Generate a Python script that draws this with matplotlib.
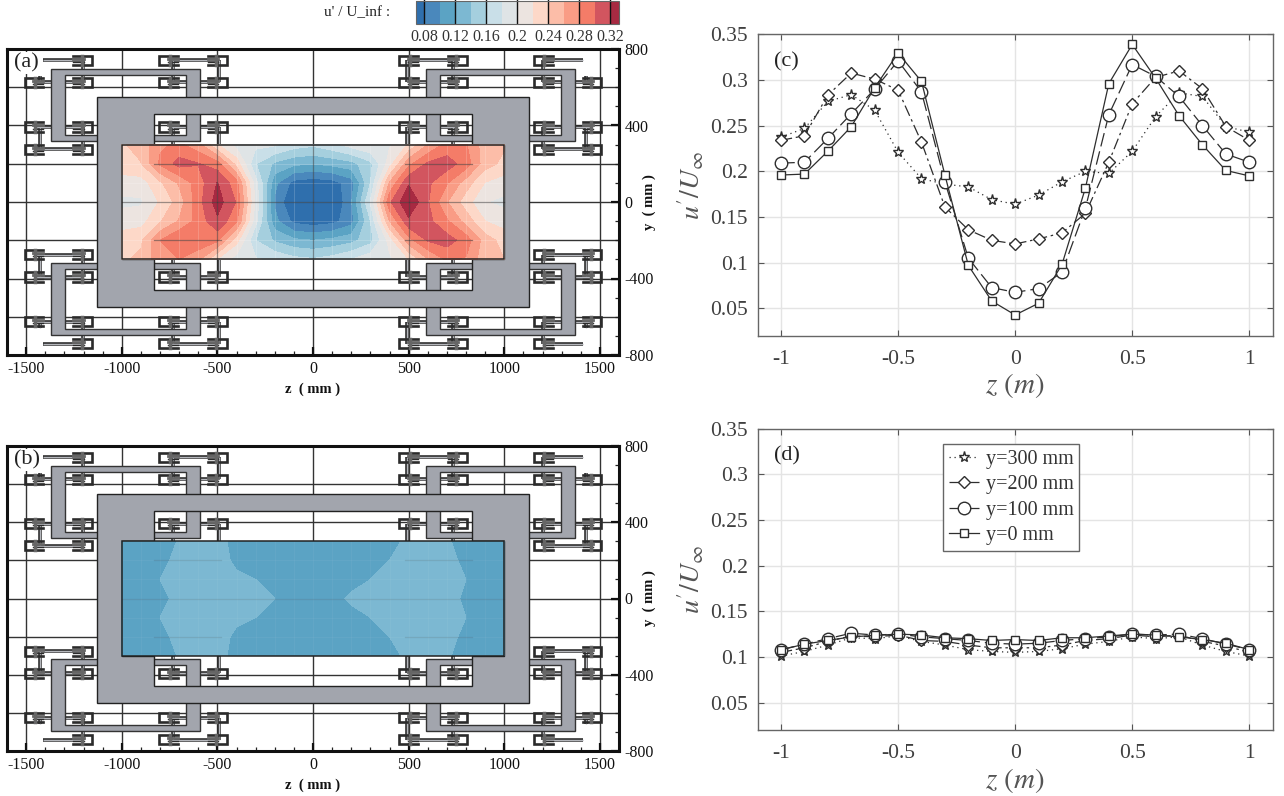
import numpy as np
import matplotlib
matplotlib.use("Agg")
import matplotlib.pyplot as plt
from matplotlib.colors import ListedColormap, BoundaryNorm
from matplotlib.patches import Rectangle, PathPatch
from matplotlib.path import Path

plt.rcParams['font.family'] = ['Liberation Serif', 'DejaVu Serif']
plt.rcParams['mathtext.fontset'] = 'stix'

W, H = 1284, 796

z_m = [-1, -.9, -.8, -.7, -.6, -.5, -.4, -.3, -.2, -.1, 0, .1, .2, .3, .4, .5, .6, .7, .8, .9, 1]
z_mm = [-1000, -900, -800, -700, -600, -500, -400, -300, -200, -100, 0, 100, 200, 300, 400, 500, 600, 700, 800, 900, 1000]
y_mm = [300, 200, 100, 0, -100, -200, -300]

# Panel (c): high-fluctuation case
c_y300 = [.2375, .247, .2766, .284, .267, .221, .192, .186, .183, .169, .164, .174, .1885, .200, .1977, .222, .260, .286, .282, .249, .243]
c_y200 = [.234, .239, .2835, .3077, .301, .289, .232, .161, .136, .1245, .1205, .126, .1326, .154, .210, .274, .303, .310, .2905, .249, .234]
c_y100 = [.209, .210, .236, .263, .290, .321, .287, .1885, .105, .0727, .0675, .0716, .0895, .1596, .262, .317, .304, .282, .250, .219, .210]
c_y0 = [.196, .197, .222, .249, .2916, .3296, .2985, .196, .097, .058, .0427, .0555, .098, .1816, .296, .339, .302, .261, .229, .201, .195]

# Panel (a) lower half of the field
a_ym100 = [.208, .212, .238, .262, .288, .316, .284, .186, .106, .074, .068, .073, .091, .160, .260, .315, .306, .283, .252, .220, .211]
a_ym200 = [.232, .236, .280, .300, .296, .284, .228, .160, .137, .124, .120, .125, .133, .152, .208, .272, .302, .309, .291, .250, .232]
a_ym300 = [.236, .245, .272, .280, .264, .218, .190, .182, .176, .166, .162, .168, .180, .194, .196, .220, .258, .283, .278, .247, .240]

# Panel (d): low-fluctuation case
d_y300 = [.101, .106, .113, .121, .120, .123, .117, .113, .108, .106, .105, .106, .109, .114, .117, .122, .120, .122, .113, .106, .101]
d_y200 = [.105, .110, .117, .123, .122, .124, .118, .117, .113, .110, .110, .110, .113, .118, .120, .124, .122, .124, .117, .112, .105]
d_y100 = [.108, .114, .120, .126, .124, .125, .122, .120, .118, .115, .114, .115, .118, .120, .122, .125, .124, .125, .120, .114, .108]
d_y0 = [.1077, .114, .118, .122, .1235, .125, .124, .121, .120, .118, .119, .118, .121, .121, .123, .125, .124, .122, .119, .115, .108]

levels = [.04, .08, .10, .12, .14, .16, .18, .20, .22, .24, .26, .28, .30, .32, .36]
colors = ['#2f6fad', '#4a88bc', '#5ba3c4', '#7cb8d2', '#a5cfde', '#c9dfe8', '#dfe4e6',
          '#ece4e0', '#fdd8c8', '#fcbda8', '#f99c85', '#f47c68', '#d2555f', '#a82a42']
cbar_ticks = [.08, .12, .16, .2, .24, .28, .32]
cbar_labels = ['0.08', '0.12', '0.16', '0.2', '0.24', '0.28', '0.32']

series_labels = ['y=300 mm', 'y=200 mm', 'y=100 mm', 'y=0 mm']
series_marker = ['*', 'D', 'o', 's']
series_ls = [(0, (1, 3)), (0, (9, 3, 2, 3)), (0, (11, 4)), '-']
series_ms = [8, 6.3, 9, 6]

cmap = ListedColormap(colors)
norm = BoundaryNorm(levels, cmap.N)

GRAY = '#a2a5ad'
DARK = '#2b2b2b'

def px_axes(l, t, r, b):
    return fig.add_axes([l / W, 1 - b / H, (r - l) / W, (b - t) / H])

brackets = [(-1205, 740, 1), (-755, 740, -1), (-500, 740, 1),
            (-1460, 625, -1), (-1205, 625, 1), (-755, 625, -1), (-500, 625, 1),
            (-1460, 392, -1), (-1205, 392, 1), (-755, 392, -1), (-500, 392, 1),
            (-1460, 276, -1), (-1205, 276, 1)]
links = [((-1410, 740), (-1205, 740)), ((-755, 740), (-500, 740)),
         ((-490, 740), (-490, 625)), ((-1205, 740), (-1205, 625)), ((-730, 740), (-730, 625)),
         ((-1460, 625), (-1371, 625)), ((-1296, 625), (-1205, 625)),
         ((-755, 625), (-665, 625)), ((-590, 625), (-500, 625)),
         ((-1460, 392), (-1371, 392)), ((-1296, 392), (-1205, 392)),
         ((-755, 392), (-665, 392)), ((-590, 392), (-500, 392)),
         ((-1430, 660), (-1430, 625)), ((-1430, 392), (-1430, 276)),
         ((-1205, 392), (-1205, 276)), ((-1460, 276), (-1205, 276)),
         ((-730, 392), (-730, 300)), ((-490, 392), (-490, 300))]

def rect_path(x0, x1, y0, y1):
    return [(x0, y0), (x1, y0), (x1, y1), (x0, y1), (x0, y0)]

def draw_rig(ax):
    for sx in (-1, 1):
        for sy in (-1, 1):
            for (p, q) in links:
                xs = [-sx * p[0], -sx * q[0]]
                ys = [sy * p[1], sy * q[1]]
                ax.plot(xs, ys, color=DARK, lw=2.6, zorder=2, solid_capstyle='butt')
                ax.plot(xs, ys, color='#b5b7bc', lw=1.0, zorder=2.1, solid_capstyle='butt')
            for cz, cy, op in brackets:
                x = -sx * cz
                y = sy * cy
                d = -sx * op
                hw, hh = 48, 24
                ax.plot([x - d * hw, x + d * hw, x + d * hw, x - d * hw],
                        [y + hh, y + hh, y - hh, y - hh], color=DARK, lw=1.9, zorder=2.2,
                        solid_joinstyle='miter')
                ax.plot([x - d * hw, x + d * 5], [y + 8, y + 8], color='#666', lw=2.0, zorder=2.2)
                ax.plot([x - d * hw, x + d * 5], [y - 8, y - 8], color=DARK, lw=1.0, zorder=2.2)
                ax.plot([x - d * 5, x - d * 5], [y - hh, y + hh], color='#666', lw=2.5, zorder=2.2)
            x0, x1 = sorted((-sx * -1371, -sx * -590))
            ix0, ix1 = sorted((-sx * -1296, -sx * -665))
            y0, y1 = sorted((sy * 317, sy * 696))
            iy0, iy1 = sorted((sy * 349, sy * 663))
            verts = rect_path(x0, x1, y0, y1) + rect_path(ix0, ix1, iy0, iy1)[::-1]
            codes = ([Path.MOVETO] + [Path.LINETO] * 3 + [Path.CLOSEPOLY]) * 2
            ax.add_patch(PathPatch(Path(verts, codes), fc=GRAY, ec='#333', lw=1.0, zorder=3))
    outer = rect_path(-1130, 1130, -550, 550)
    hole = [(-830, 460), (830, 460), (830, 300), (1000, 300), (1000, -300), (830, -300),
            (830, -460), (-830, -460), (-830, -300), (-1000, -300), (-1000, 300), (-830, 300), (-830, 460)]
    codes = [Path.MOVETO] + [Path.LINETO] * 3 + [Path.CLOSEPOLY] + [Path.MOVETO] + [Path.LINETO] * (len(hole) - 2) + [Path.CLOSEPOLY]
    ax.add_patch(PathPatch(Path(outer + hole, codes), fc=GRAY, ec='#222', lw=1.0, zorder=3.2))

def field_axes(top, bottom, Z, tag, vert_a, horz_a, seam_a):
    ax = px_axes(7, top, 619, bottom)
    ax.set_xlim(-1600, 1600)
    ax.set_ylim(-800, 800)
    for v in [-1500, -1000, -500, 0, 500, 1000, 1500]:
        ax.axvline(v, color='#333', lw=1.0, zorder=1)
    for v in [-600, -400, -200, 0, 200, 400, 600]:
        ax.axhline(v, color='#333', lw=1.0, zorder=1)
    draw_rig(ax)
    ax.contourf(z_mm, y_mm, Z, levels=levels, cmap=cmap, norm=norm, zorder=4)
    for v in z_mm[1:-1]:
        ax.plot([v, v], [-300, 300], color='white', lw=0.6, alpha=seam_a, zorder=4.5)
    for v in y_mm[1:-1]:
        ax.plot([-1000, 1000], [v, v], color='white', lw=0.6, alpha=seam_a, zorder=4.5)
    for v in [-500, 0, 500]:
        ax.plot([v, v], [-300, 300], color='#222', lw=0.9, alpha=vert_a, zorder=4.6)
    ax.plot([-1000, 1000], [0, 0], color='#222', lw=0.9, alpha=horz_a, zorder=4.6)
    for v in [-200, 200]:
        ax.plot([-830, -480], [v, v], color='#222', lw=0.9, alpha=horz_a, zorder=4.6)
        ax.plot([480, 830], [v, v], color='#222', lw=0.9, alpha=horz_a, zorder=4.6)
    ax.add_patch(Rectangle((-1000, -300), 2000, 600, fc='none', ec='#222', lw=1.1, zorder=5))
    ax.yaxis.tick_right()
    ax.set_xticks([-1500, -1000, -500, 0, 500, 1000, 1500])
    ax.set_xticklabels(['-1500', '-1000', '-500', '0', '500', '1000', '1500'], fontsize=11.5)
    ax.set_yticks([-800, -400, 0, 400, 800])
    ax.set_yticklabels(['-800', '-400', '0', '400', '800'], fontsize=11.5)
    ax.set_xticks(np.arange(-1500, 1501, 100), minor=True)
    ax.set_yticks(np.arange(-800, 801, 100), minor=True)
    ax.tick_params(axis='both', which='major', direction='in', length=6, width=1.6, pad=4, colors='#111')
    ax.tick_params(axis='both', which='minor', direction='in', length=3, width=0.9, color='#222')
    for s in ax.spines.values():
        s.set_linewidth(2.2)
        s.set_color('#111')
        s.set_zorder(8)
    ax.text(0, -980, 'z  ( mm )', ha='center', va='center', fontsize=10.5, fontweight='bold', color='#111')
    ax.text(1760, 0, 'y  ( mm )', ha='center', va='center', rotation=90, fontsize=10.5, fontweight='bold', color='#111')
    ax.text(-1565, 725, tag, fontsize=16, va='center', ha='left', color='#222', zorder=9,
            bbox=dict(fc='white', ec='none', pad=1.0))

def line_axes(top, bottom, data, tag, legend=False):
    ax = px_axes(757.6, top, 1272.7, bottom)
    for vals, lab, mk, ls, ms in zip(data, series_labels, series_marker, series_ls, series_ms):
        ax.plot(z_m, vals, color='#2e2e2e', lw=0.9, ls=ls, marker=mk, ms=ms, mfc='white',
                mec='#2e2e2e', mew=1.0, label=lab, clip_on=True)
    ax.set_xlim(-1.1, 1.1)
    ax.set_ylim(.02, .35)
    ax.set_xticks([-1, -.5, 0, .5, 1])
    ax.set_xticklabels(['-1', '-0.5', '0', '0.5', '1'], fontsize=15.5, color='#404040')
    ax.set_yticks([.05, .1, .15, .2, .25, .3, .35])
    ax.set_yticklabels(['0.05', '0.1', '0.15', '0.2', '0.25', '0.3', '0.35'], fontsize=15.5, color='#404040')
    ax.grid(True, color='#e4e4e4', lw=1.0)
    ax.set_axisbelow(True)
    ax.tick_params(direction='in', length=4, width=0.8, color='#555', pad=7, top=True, right=True)
    ax.tick_params(axis='x', pad=10)
    for s in ax.spines.values():
        s.set_linewidth(1.0)
        s.set_color('#666')
    ax.set_xlabel(r'$z\ (m)$', fontsize=21, color='#555', labelpad=2)
    ax.set_ylabel(r"$u^{\prime}/U_{\infty}$", fontsize=20, color='#555', labelpad=3)
    ax.text(-1.03, .32, tag, fontsize=16, va='center', color='#222')
    if legend:
        leg = ax.legend(loc='upper left', bbox_to_anchor=((943 - 757.6) / 515.1, 1 - (444 - top) / (bottom - top)),
                        borderaxespad=0, fontsize=14.5, frameon=True, fancybox=False, edgecolor='#666',
                        framealpha=1, labelspacing=0.32, handlelength=1.5, handletextpad=0.35,
                        borderpad=0.28)
        leg.get_frame().set_linewidth(1.0)
        for t in leg.get_texts():
            t.set_color('#333')
    return ax

fig = plt.figure(figsize=(W / 100, H / 100), dpi=100)

Z_a = np.array([c_y300, c_y200, c_y100, c_y0, a_ym100, a_ym200, a_ym300])
Z_b = np.array([d_y300, d_y200, d_y100, d_y0, d_y100, d_y200, d_y300])

field_axes(49, 355, Z_a, '(a)', 0.45, 0.45, 0.2)
field_axes(446, 751, Z_b, '(b)', 0.0, 0.12, 0.05)

cax = px_axes(416, 1, 619, 23.5)
sm = plt.cm.ScalarMappable(cmap=cmap, norm=norm)
cb = fig.colorbar(sm, cax=cax, orientation='horizontal', spacing='proportional')
cax.set_xlim(.0693, .3316)
cb.set_ticks(cbar_ticks)
cb.set_ticklabels(cbar_labels)
cax.tick_params(axis='x', direction='in', length=22.5, width=1.0, color='#111', pad=4, labelsize=11.5, labelcolor='#333', which='major')
cax.minorticks_off()
cb.outline.set_linewidth(0.8)
cb.outline.set_edgecolor('#666')
fig.text(390 / W, 1 - 13 / H, "u' / U_inf :", ha='right', va='center', fontsize=11, color='#222')

line_axes(34.4, 335.7, [c_y300, c_y200, c_y100, c_y0], '(c)')
line_axes(428.6, 730, [d_y300, d_y200, d_y100, d_y0], '(d)', legend=True)

fig.savefig('out.png', dpi=100)
